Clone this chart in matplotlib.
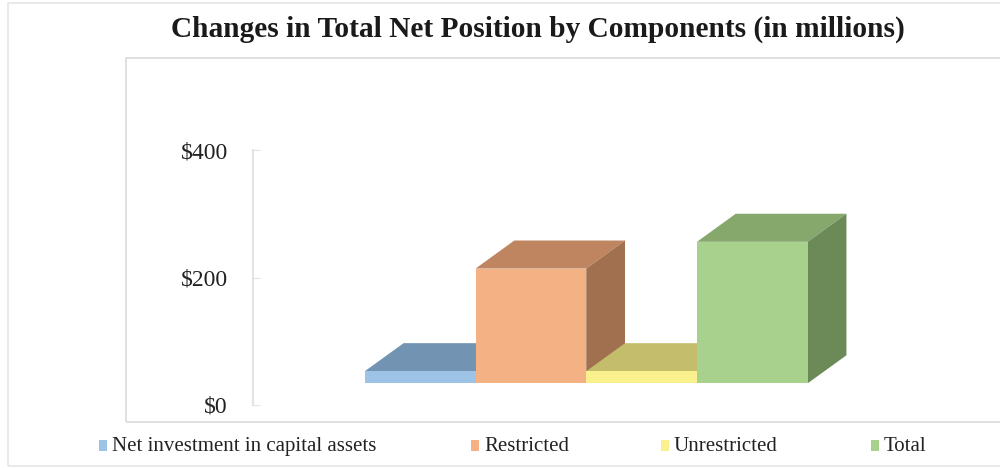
import matplotlib.pyplot as plt
from matplotlib.patches import Polygon, Rectangle

categories = ['Net investment in capital assets', 'Restricted', 'Unrestricted', 'Total']
values = [19, 180, 19, 222]
tick_values = [0, 200, 400]
tick_labels = ['$0', '$200', '$400']

front_colors = ['#9DC3E6', '#F4B183', '#FAF08E', '#A9D18E']
top_colors = ['#7393B3', '#BF8460', '#C4BE6C', '#86A86D']
side_colors = ['#5F7C99', '#A0704F', '#A8A25A', '#6B8A57']

# fake 3d projection: depth offset (category units, value units) and floor shift
DX, DY = 0.35, 44
FLOOR = 34

plt.rcParams['font.family'] = ['Liberation Serif', 'DejaVu Serif']

W, H = 1000, 468
fig = plt.figure(figsize=(10, 4.68), dpi=100)

def fx(px):
    return px / W

def fy(py):
    return 1 - py / H

# chart borders
fig.patches.append(Rectangle((fx(8), fy(466)), fx(1010) - fx(8), fy(3) - fy(466),
                             transform=fig.transFigure, fill=False, edgecolor='#E6E6E6', lw=1.2))
fig.patches.append(Rectangle((fx(126), fy(422)), fx(1010) - fx(126), fy(58) - fy(422),
                             transform=fig.transFigure, fill=False, edgecolor='#DADADA', lw=1.2))

fig.text(fx(538), fy(29), 'Changes in Total Net Position by Components (in millions)',
         ha='center', va='center', fontsize=21.2, fontweight='bold', color='#1a1a1a')

# axes: left spine at x=253, y=0 at 405, y=400 at 150
ax = fig.add_axes([fx(253), fy(405), fx(997) - fx(253), fy(150) - fy(405)])
ax.set_xlim(-1.51, 5.21)
ax.set_ylim(0, 400)
for s in ['top', 'right', 'bottom']:
    ax.spines[s].set_visible(False)
ax.spines['left'].set_color('#E3E3E3')
ax.spines['left'].set_linewidth(1.5)
ax.set_xticks([])
ax.set_yticks(tick_values)
ax.set_yticklabels(tick_labels, fontsize=17, color='#222222')
ax.tick_params(axis='y', direction='in', length=5, color='#E3E3E3', pad=18)
ax.patch.set_alpha(0)

for i, v in enumerate(values):
    x0, x1 = i - 0.5, i + 0.5
    b, t = FLOOR, FLOOR + v
    top = Polygon([(x0, t), (x1, t), (x1 + DX, t + DY), (x0 + DX, t + DY)],
                  closed=True, facecolor=top_colors[i], edgecolor='none', clip_on=False)
    side = Polygon([(x1, b), (x1 + DX, b + DY), (x1 + DX, t + DY), (x1, t)],
                   closed=True, facecolor=side_colors[i], edgecolor='none', clip_on=False)
    ax.add_patch(top)
    ax.add_patch(side)
    ax.bar(i, v, width=1.0, bottom=b, color=front_colors[i], edgecolor='none', clip_on=False)

# legend
legend_x = [99, 471, 661, 871]
for lx, c, lab in zip(legend_x, front_colors, categories):
    fig.patches.append(Rectangle((fx(lx), fy(451)), fx(8), 11 / H,
                                 transform=fig.transFigure, facecolor=c, edgecolor='none'))
    fig.text(fx(lx + 13), fy(451), lab, ha='left', va='baseline', fontsize=15, color='#222222')

fig.savefig('out.png', dpi=100)
